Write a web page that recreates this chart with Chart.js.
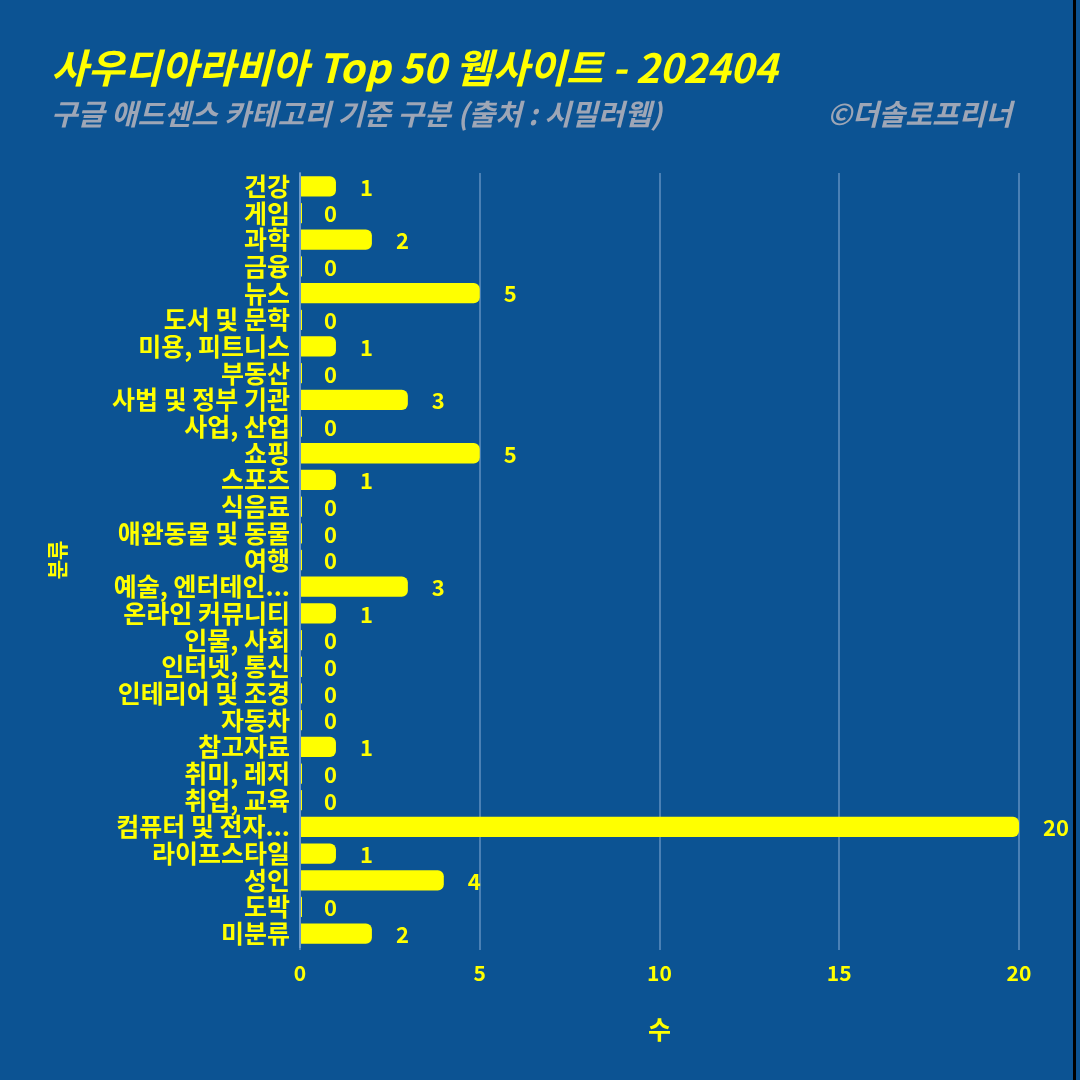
<!DOCTYPE html>
<html>
<head>
<meta charset="utf-8">
<script src="https://cdn.jsdelivr.net/npm/chart.js@4.4.1/dist/chart.umd.min.js"></script>
<style>
	html, body { margin: 0; padding: 0; background: #0c5393; }
	#wrap { width: 1080px; height: 1080px; position: relative; }
</style>
</head>
<body>
<div id="wrap"><canvas id="chart" width="1080" height="1080"></canvas></div>
<script>

const titleText = '사우디아라비아 Top 50 웹사이트 - 202404';
const subtitleText = '구글 애드센스 카테고리 기준 구분 (출처 : 시밀러웹)';
const creditText = '©더솔로프리너';

const categories = [
	'건강', '게임', '과학', '금융', '뉴스', '도서 및 문학', '미용, 피트니스', '부동산',
	'사법 및 정부 기관', '사업, 산업', '쇼핑', '스포츠', '식음료', '애완동물 및 동물', '여행',
	'예술, 엔터테인...', '온라인 커뮤니티', '인물, 사회', '인터넷, 통신', '인테리어 및 조경',
	'자동차', '참고자료', '취미, 레저', '취업, 교육', '컴퓨터 및 전자...', '라이프스타일',
	'성인', '도박', '미분류'
];
const counts = [1, 0, 2, 0, 5, 0, 1, 0, 3, 0, 5, 1, 0, 0, 0, 3, 1, 0, 0, 0, 0, 1, 0, 0, 20, 1, 4, 0, 2];
const xTicks = [0, 5, 10, 15, 20];

const yellow = '#ffff00';
const gridColor = 'rgba(150, 185, 225, 0.45)';
const fontFamily = "'Noto Sans CJK KR', 'Noto Sans', sans-serif";


const headerPlugin = {
	id: 'header',
	afterDraw(chart) {
		const ctx = chart.ctx;
		ctx.save();
		ctx.textBaseline = 'middle';

		ctx.fillStyle = yellow;
		ctx.font = 'italic bold 40px ' + fontFamily;
		ctx.textAlign = 'left';
		ctx.fillText(titleText, 51, 68);

		ctx.fillStyle = '#9ea6b6';
		ctx.font = 'italic bold 29px ' + fontFamily;
		ctx.fillText(subtitleText, 51, 114);
		ctx.textAlign = 'right';
		ctx.fillText(creditText, 1012, 114);

		// frame line on the right edge
		ctx.fillStyle = '#000000';
		ctx.fillRect(1073, 0, 3, 1080);
		ctx.restore();
	}
};


const valueLabels = {
	id: 'valueLabels',
	afterDatasetsDraw(chart) {
		const ctx = chart.ctx;
		const meta = chart.getDatasetMeta(0);
		ctx.save();
		ctx.fillStyle = yellow;
		ctx.font = 'bold 22px ' + fontFamily;
		ctx.textAlign = 'left';
		ctx.textBaseline = 'middle';
		meta.data.forEach(function(bar, i) {
			const end = chart.scales.x.getPixelForValue(counts[i]);
			ctx.fillText(String(counts[i]), end + 24, bar.y + 1);
		});
		ctx.restore();
	}
};


new Chart(document.getElementById('chart').getContext('2d'), {
	type: 'bar',
	data: {
		labels: categories,
		datasets: [{
			data: counts,
			backgroundColor: yellow,
			borderColor: yellow,
			borderWidth: 0,
			borderRadius: 6,
			borderSkipped: 'start',
			minBarLength: 2,
			barPercentage: 0.76,
			categoryPercentage: 1
		}]
	},
	options: {
		indexAxis: 'y',
		responsive: false,
		animation: false,
		layout: {
			padding: {top: 173, left: 44, right: 61, bottom: 32}
		},
		plugins: {
			legend: {display: false},
			tooltip: {enabled: false}
		},
		scales: {
			x: {
				min: 0,
				max: 20,
				afterBuildTicks: (scale) => {
					scale.ticks = xTicks.map(v => ({value: v}));
				},
				afterFit: (scale) => { scale.height = 101; },
				grid: {
					color: gridColor,
					lineWidth: 2,
					drawTicks: true,
					tickLength: 3
				},
				border: {display: false},
				ticks: {
					color: yellow,
					padding: 10,
					font: {family: fontFamily, size: 21, weight: 'bold'}
				},
				title: {
					display: true,
					text: '수',
					color: yellow,
					padding: {top: 12},
					font: {family: fontFamily, size: 25, weight: 'bold'}
				}
			},
			y: {
				afterFit: (scale) => { scale.width = 256; },
				grid: {display: false, drawTicks: false},
				border: {display: true, color: gridColor, width: 2},
				ticks: {
					color: yellow,
					padding: 10,
					autoSkip: false,
					font: {family: fontFamily, size: 25, weight: 'bold'}
				},
				title: {
					display: true,
					text: '분류',
					color: yellow,
					padding: 0,
					font: {family: fontFamily, size: 21, weight: 'bold'}
				}
			}
		}
	},
	plugins: [headerPlugin, valueLabels]
});
</script>
</body>
</html>
